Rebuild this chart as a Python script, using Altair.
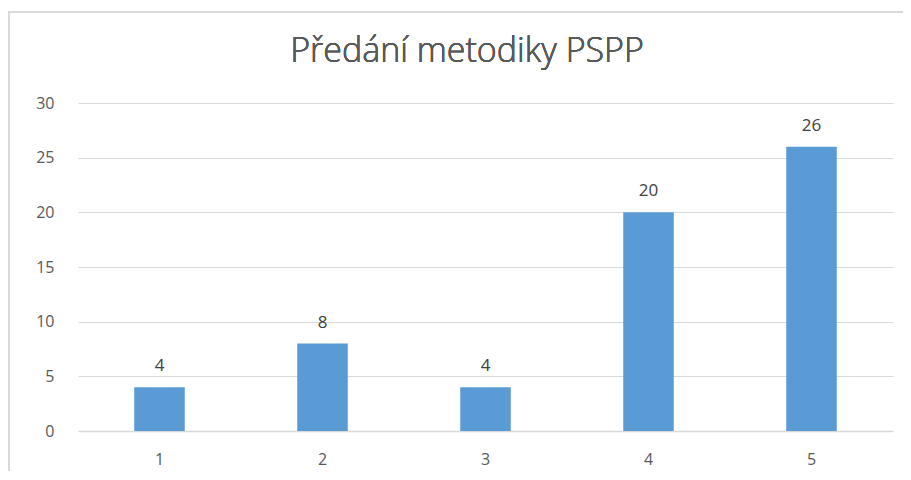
import altair as alt
import pandas as pd

categories = ["1", "2", "3", "4", "5"]
values = [4, 8, 4, 20, 26]
title_text = "Předání metodiky PSPP"

df = pd.DataFrame({"cat": categories, "val": values})

W, H = 815, 328
GREY = "#595959"
FONT = "Open Sans"

base = alt.Chart(df)

bars = base.mark_bar(color="#5B9BD5").encode(
    x=alt.X("cat:N", sort=categories, title=None,
            scale=alt.Scale(paddingInner=0.69, paddingOuter=0.345),
            axis=alt.Axis(labelAngle=0, labelFontSize=16, labelColor=GREY,
                          labelFont=FONT, labelPadding=20, ticks=False,
                          domainColor="#d9d9d9", domainWidth=1.5, grid=False)),
    y=alt.Y("val:Q", title=None,
            scale=alt.Scale(domain=[0, 30], nice=False),
            axis=alt.Axis(values=[0, 5, 10, 15, 20, 25, 30], labelFontSize=16,
                          labelColor=GREY, labelFont=FONT, labelPadding=24,
                          ticks=False, domain=False, gridColor="#d9d9d9",
                          gridWidth=1.2)),
)

labels = base.mark_text(baseline="bottom", dy=-12, fontSize=17, color="#404040",
                        font=FONT).encode(
    x=alt.X("cat:N", sort=categories),
    y="val:Q",
    text="val:Q",
)

title = base.mark_text(fontSize=34, fontWeight=300, color=GREY, font=FONT,
                       baseline="middle").encode(
    x=alt.value(389), y=alt.value(-51), text=alt.value(title_text)
)

frame = base.mark_rect(fill=None, stroke="#d9d9d9", strokeWidth=1.5).encode(
    x=alt.value(-69), x2=alt.value(W + 40), y=alt.value(-91), y2=alt.value(H + 80)
)

chart = alt.layer(frame, bars, labels, title).properties(
    width=W, height=H,
    autosize=alt.AutoSizeParams(type="none"),
    padding={"left": 70, "top": 95, "right": 10, "bottom": 40},
).configure_view(stroke=None)

chart.save("out.html", embed_options={"renderer": "svg", "actions": False})
